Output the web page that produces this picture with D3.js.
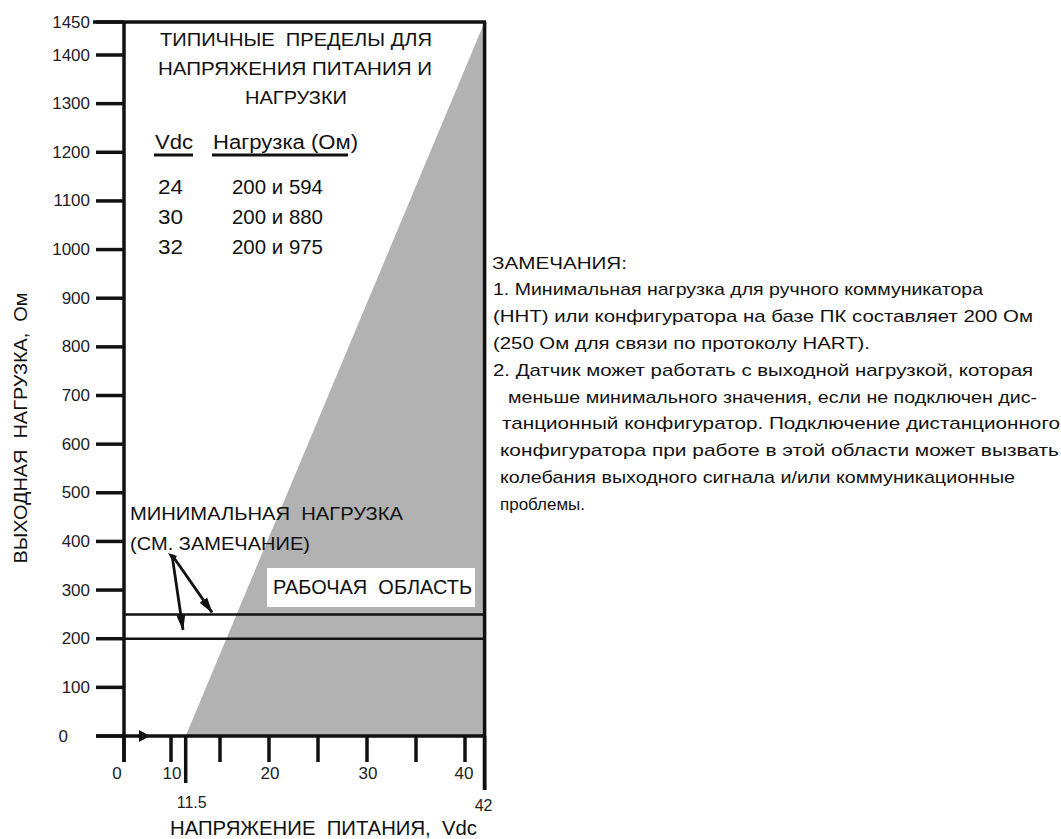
<!DOCTYPE html>
<html><head><meta charset="utf-8">
<script src="https://cdn.jsdelivr.net/npm/d3@7"></script>
<style>
html,body{margin:0;padding:0;background:#fff;}
svg text{font-family:"Liberation Sans",Arial,sans-serif;fill:#111;white-space:pre;}
</style></head>
<body>
<svg id="chart" width="1061" height="839"></svg>
<script>
// ---- data ----
const yTicks = [0,100,200,300,400,500,600,700,800,900,1000,1100,1200,1300,1400,1450];
const xTicks = [0,10,11.5,15,20,25,30,35,40,42];
const xLabels = [0,10,20,30,40];
const xSpecialLabels = [11.5,42];
const boundaryV = [11.5, 42];      // supply voltage at boundary line
const boundaryR = [0, 1450];       // load at boundary line
const minLoads = [200, 250];
const tableVdc = ["24","30","32"];
const tableLoad = ["200 и 594","200 и 880","200 и 975"];
const titleLines = ["ТИПИЧНЫЕ  ПРЕДЕЛЫ ДЛЯ","НАПРЯЖЕНИЯ ПИТАНИЯ И","НАГРУЗКИ"];
const notes = [
  "ЗАМЕЧАНИЯ:",
  "1. Минимальная нагрузка для ручного коммуникатора",
  "(ННТ) или конфигуратора на базе ПК составляет 200 Ом",
  "(250 Ом для связи по протоколу HART).",
  "2. Датчик может работать с выходной нагрузкой, которая",
  "меньше минимального значения, если не подключен дис-",
  "танционный конфигуратор. Подключение дистанционного",
  "конфигуратора при работе в этой области может вызвать",
  "колебания выходного сигнала и/или коммуникационные",
  "проблемы."
];

// ---- layout ----
const svg = d3.select("#chart");
const y = d3.scaleLinear().domain([0,1400,1450]).range([736,55,22]);
const x = d3.scaleLinear().domain([0,10,42]).range([124,171,484.6]);
const ink = "#111";
const gray = "#b2b2b2";

// gray operating region
const poly = [[boundaryV[0],boundaryR[0]],[boundaryV[1],boundaryR[1]],[boundaryV[1],0]];
svg.append("path")
  .attr("d", d3.line().x(d=>x(d[0])).y(d=>y(d[1]))(poly) + "Z")
  .attr("fill", gray);

// min load lines
svg.selectAll("line.minload").data(minLoads).join("line")
  .attr("x1", x(0)).attr("x2", x(42))
  .attr("y1", d=>y(d)).attr("y2", d=>y(d))
  .attr("stroke", ink).attr("stroke-width", 2.5);

// y ticks
svg.selectAll("line.ytick").data(yTicks).join("line")
  .attr("x1", 96).attr("x2", x(0))
  .attr("y1", d=>y(d)).attr("y2", d=>y(d))
  .attr("stroke", ink).attr("stroke-width", 3.5);
svg.selectAll("text.ylab").data(yTicks).join("text")
  .attr("x", d=> d===0 ? 68 : 90)
  .attr("y", d=>y(d))
  .attr("text-anchor","end").attr("dominant-baseline","central")
  .style("font-size","17px").style("fill","#222")
  .text(d=>d);

// top border
svg.append("line").attr("x1",93).attr("x2",x(42)+1.5).attr("y1",y(1450)).attr("y2",y(1450))
  .attr("stroke",ink).attr("stroke-width",3.5);
// right border
svg.append("line").attr("x1",x(42)).attr("x2",x(42)).attr("y1",y(1450)).attr("y2",790)
  .attr("stroke",ink).attr("stroke-width",3.5);
// y axis
svg.append("line").attr("x1",x(0)).attr("x2",x(0)).attr("y1",y(1450)).attr("y2",762)
  .attr("stroke",ink).attr("stroke-width",3.5);
// x axis
svg.append("line").attr("x1",96).attr("x2",x(42)).attr("y1",y(0)).attr("y2",y(0))
  .attr("stroke",ink).attr("stroke-width",3.5);

// x ticks
svg.selectAll("line.xtick").data(xTicks).join("line")
  .attr("x1", d=>x(d)).attr("x2", d=>x(d))
  .attr("y1", y(0)).attr("y2", d=> d===11.5 ? 783 : (d===42 ? 790 : 762))
  .attr("stroke", ink).attr("stroke-width", 3.5);
svg.selectAll("text.xlab").data(xLabels).join("text")
  .attr("x", d=> d===0 ? x(d)-7 : x(d)+ (d===40?-1:1))
  .attr("y", 773)
  .attr("text-anchor","middle").attr("dominant-baseline","central")
  .style("font-size","17px").style("fill","#222")
  .text(d=>d);
svg.selectAll("text.xlab2").data(xSpecialLabels).join("text")
  .attr("x", d=> d===11.5 ? x(d)+6 : x(d)-1)
  .attr("y", d=> d===11.5 ? 802 : 805)
  .attr("text-anchor","middle").attr("dominant-baseline","central")
  .style("font-size","16px").style("fill","#222")
  .text(d=>d);

// small arrow on x axis
svg.append("path").attr("d","M139,730 L150,736 L139,742 Z").attr("fill",ink);

// axis titles
svg.append("text").attr("x",170).attr("y",828).attr("dominant-baseline","central")
  .attr("textLength",307).attr("lengthAdjust","spacingAndGlyphs")
  .style("font-size","20px").text("НАПРЯЖЕНИЕ  ПИТАНИЯ,  Vdc");
svg.append("text").attr("transform","translate(20,428) rotate(-90)")
  .attr("text-anchor","middle").attr("dominant-baseline","central")
  .attr("textLength",271).attr("lengthAdjust","spacingAndGlyphs")
  .style("font-size","19px").text("ВЫХОДНАЯ  НАГРУЗКА,  Ом");

// chart title block
const titleGeo = [[160,272,39],[158,274,68],[245,102,97]];
svg.selectAll("text.title").data(titleLines).join("text")
  .attr("x",(d,i)=>titleGeo[i][0]).attr("y",(d,i)=>titleGeo[i][2])
  .attr("textLength",(d,i)=>titleGeo[i][1]).attr("lengthAdjust","spacingAndGlyphs")
  .attr("dominant-baseline","central")
  .style("font-size","19px").text(d=>d);

// table header
svg.append("text").attr("x",155).attr("y",142).attr("dominant-baseline","central")
  .attr("textLength",38).attr("lengthAdjust","spacingAndGlyphs")
  .style("font-size","20px").text("Vdc");
svg.append("text").attr("x",213).attr("y",142).attr("dominant-baseline","central")
  .attr("textLength",145).attr("lengthAdjust","spacingAndGlyphs")
  .style("font-size","20px").text("Нагрузка (Ом)");
svg.append("line").attr("x1",154).attr("x2",193).attr("y1",155).attr("y2",155)
  .attr("stroke",ink).attr("stroke-width",3);
svg.append("line").attr("x1",212).attr("x2",348).attr("y1",155).attr("y2",155)
  .attr("stroke",ink).attr("stroke-width",3);
// table rows
svg.selectAll("text.tv").data(tableVdc).join("text")
  .attr("x",158).attr("y",(d,i)=>187+i*30).attr("dominant-baseline","central")
  .attr("textLength",25).attr("lengthAdjust","spacingAndGlyphs")
  .style("font-size","20px").text(d=>d);
svg.selectAll("text.tl").data(tableLoad).join("text")
  .attr("x",232).attr("y",(d,i)=>187+i*30).attr("dominant-baseline","central")
  .attr("textLength",91).attr("lengthAdjust","spacingAndGlyphs")
  .style("font-size","20px").text(d=>d);

// min load annotation
svg.append("text").attr("x",130).attr("y",513).attr("dominant-baseline","central")
  .attr("textLength",273).attr("lengthAdjust","spacingAndGlyphs")
  .style("font-size","19px").text("МИНИМАЛЬНАЯ  НАГРУЗКА");
svg.append("text").attr("x",130).attr("y",543).attr("dominant-baseline","central")
  .attr("textLength",180).attr("lengthAdjust","spacingAndGlyphs")
  .style("font-size","19px").text("(СМ. ЗАМЕЧАНИЕ)");

// arrows
svg.append("defs").append("marker").attr("id","ah")
  .attr("viewBox","0 0 16 9").attr("refX",15).attr("refY",4.5)
  .attr("markerWidth",16).attr("markerHeight",9).attr("markerUnits","userSpaceOnUse")
  .attr("orient","auto")
  .append("path").attr("d","M0,0 L16,4.5 L0,9 Z").attr("fill",ink);
const arrowTargets = [[x(0)+88, y(250)-2],[x(0)+59, y(200)-9]];
svg.selectAll("line.arr").data(arrowTargets).join("line")
  .attr("x1",172).attr("y1",555)
  .attr("x2",d=>d[0]).attr("y2",d=>d[1])
  .attr("stroke",ink).attr("stroke-width",2.8).attr("marker-end","url(#ah)");
svg.append("path").attr("d","M168,553 L177,556 L173,562 Z").attr("fill",ink);

// operating area label
svg.append("rect").attr("x",267).attr("y",568).attr("width",208).attr("height",39).attr("fill","#fff");
svg.append("text").attr("x",273).attr("y",587).attr("dominant-baseline","central")
  .attr("textLength",199).attr("lengthAdjust","spacingAndGlyphs")
  .style("font-size","20px").text("РАБОЧАЯ  ОБЛАСТЬ");

// notes
const noteGeo = [[492,135],[493,490],[493,540],[493,377],[493,540],[508,529],[502,558],[500,559],[500,515],[500,85]];
svg.selectAll("text.note").data(notes).join("text")
  .attr("x",(d,i)=>noteGeo[i][0]).attr("y",(d,i)=>263+i*26.8)
  .attr("textLength",(d,i)=>noteGeo[i][1]).attr("lengthAdjust","spacingAndGlyphs")
  .attr("dominant-baseline","central")
  .style("font-size","17px").text(d=>d);
</script>
</body></html>
